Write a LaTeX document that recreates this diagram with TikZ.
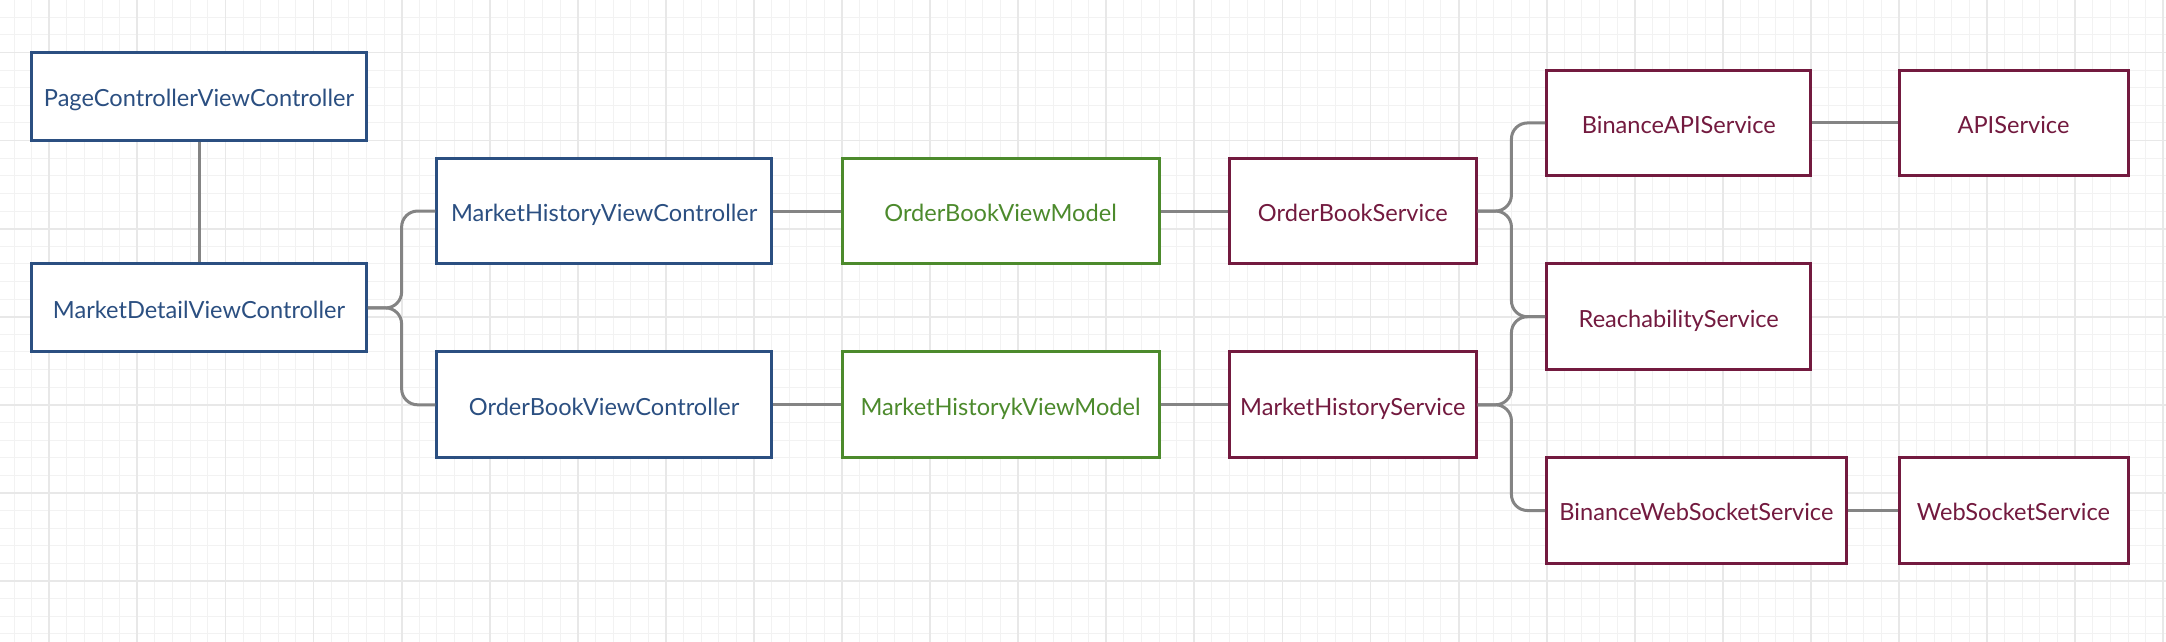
\documentclass[tikz,border=0pt]{standalone}
\usepackage{fontspec}
\setmainfont{Lato}
\definecolor{cblue}{HTML}{2B4F81}
\definecolor{cgreen}{HTML}{4C8A2C}
\definecolor{cred}{HTML}{731A3F}
\definecolor{cline}{HTML}{848484}
\definecolor{gminor}{HTML}{F2F2F2}
\definecolor{gmajor}{HTML}{E8E8E8}
\begin{document}
\begin{tikzpicture}[x=8.808pt,y=-8.808pt,
  minorline/.style={gminor,line width=0.5pt},
  majorline/.style={gmajor,line width=0.9pt},
  box/.style={draw=#1,text=#1,fill=white,line width=1.5pt,inner sep=0pt,
    font=\fontsize{11.8pt}{13.5pt}\selectfont,text height=10.45pt,text depth=0pt},
  bw/.style={minimum width=#1*8.808pt},
  bh/.style={minimum height=#1*8.808pt},
  conn/.style={cline,line width=1.5pt,rounded corners=8pt}]
\useasboundingbox (-2.7986,-2.9802) rectangle (120.157,33.463);
\fill[white] (-2.7986,-2.9802) rectangle (120.157,33.463);
% grid
\foreach \i in {-2,...,120} \draw[minorline] (\i,-2.9802) -- (\i,33.463);
\foreach \j in {-2,...,33} \draw[minorline] (-2.7986,\j) -- (120.157,\j);
\foreach \i in {0,5,...,120} \draw[majorline] (\i,-2.9802) -- (\i,33.463);
\foreach \j in {0,5,...,30} \draw[majorline] (-2.7986,\j) -- (120.157,\j);
% nodes
\node[box=cblue,bw=19,bh=5] (pc) at (8.5,2.5) {PageControllerViewController};
\node[box=cblue,bw=19,bh=5] (md) at (8.5,14.5) {MarketDetailViewController};
\node[box=cblue,bw=19,bh=6] (mhvc) at (31.5,9) {MarketHistoryViewController};
\node[box=cblue,bw=19,bh=6] (obvc) at (31.5,20) {OrderBookViewController};
\node[box=cgreen,bw=18,bh=6] (obvm) at (54,9) {OrderBookViewModel};
\node[box=cgreen,bw=18,bh=6] (mhvm) at (54,20) {MarketHistorykViewModel};
\node[box=cred,bw=14,bh=6] (obs) at (74,9) {OrderBookService};
\node[box=cred,bw=14,bh=6] (mhs) at (74,20) {MarketHistoryService};
\node[box=cred,bw=15,bh=6] (bapi) at (92.5,4) {BinanceAPIService};
\node[box=cred,bw=15,bh=6] (reach) at (92.5,15) {ReachabilityService};
\node[box=cred,bw=17,bh=6] (bws) at (93.5,26) {BinanceWebSocketService};
\node[box=cred,bw=13,bh=6] (api) at (111.5,4) {APIService};
\node[box=cred,bw=13,bh=6] (wss) at (111.5,26) {WebSocketService};
% trunks
\coordinate (tl) at (20,0);
\coordinate (tr) at (83,0);
% connectors
\draw[conn] (pc.south) -- (md.north);
\draw[conn] (md.east) -- (tl |- md.east) |- (mhvc.west);
\draw[conn] (md.east) -- (tl |- md.east) |- (obvc.west);
\draw[conn] (mhvc.east) -- (obvm.west);
\draw[conn] (obvc.east) -- (mhvm.west);
\draw[conn] (obvm.east) -- (obs.west);
\draw[conn] (mhvm.east) -- (mhs.west);
\draw[conn] (obs.east) -- (tr |- obs.east) |- (bapi.west);
\draw[conn] (obs.east) -- (tr |- obs.east) |- (reach.west);
\draw[conn] (mhs.east) -- (tr |- mhs.east) |- (reach.west);
\draw[conn] (mhs.east) -- (tr |- mhs.east) |- (bws.west);
\draw[conn] (bapi.east) -- (api.west);
\draw[conn] (bws.east) -- (wss.west);
\end{tikzpicture}
\end{document}
